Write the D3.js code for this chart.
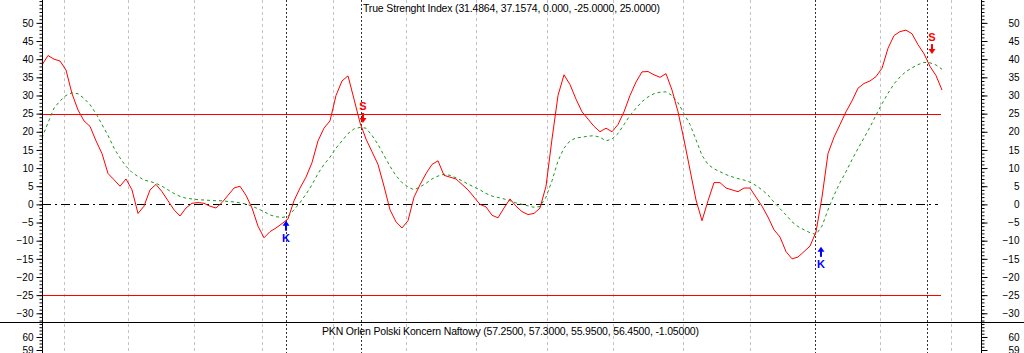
<!DOCTYPE html>
<html>
<head>
<meta charset="utf-8">
<script src="https://cdn.jsdelivr.net/npm/d3@7"></script>
<style>
  body { margin: 0; background: #fff; }
  svg { display: block; }
  text { font-family: "Liberation Sans", Arial, sans-serif; }
</style>
</head>
<body>
<div id="chart"></div>
<script>
// TSI values, one per bar
const tsi = [
  38.4, 41, 40, 39.5, 37, 30.5, 26, 23, 21.5, 17.5,
  14, 8.5, 6.8, 5, 7, 4, -2.5, -0.5, 4, 5.5,
  3.5, 1, -1.5, -3.2, -1, 0.3, 0.5, 0.3, -0.5, -1,
  0.5, 2.5, 4.5, 5, 2.5, -1, -6, -9.2, -7.5, -6.5,
  -5.3, -4, 1, 4.5, 7.5, 11.5, 17.5, 21, 23, 30,
  34, 35.4, 29, 22.5, 18, 14.5, 11, 5, -1.5, -4.8,
  -6.5, -4.5, 2, 5.4, 8.5, 11, 12, 8, 7.5, 7,
  5.5, 4, 2, 0, -0.7, -3, -3.7, -1, 1.5, -0.5,
  -2, -2.8, -2.5, -1, 5, 18, 30, 35.7, 33, 29,
  25.5, 23.5, 21.5, 20, 21, 20, 22, 25.5, 30, 33.7,
  36.5, 36.6, 35.7, 35, 36, 31.5, 25.5, 17.8, 9.5, 1.2,
  -4.5, 1, 6, 6, 4.5, 4, 3.5, 4.5, 4.5, 2,
  -0.5, -3.5, -7, -9, -13, -15, -14.5, -13, -11.5, -7.6,
  2, 14, 18.5, 22, 25.5, 28.5, 32, 33.3, 34, 35.2,
  37.5, 43, 46.5, 47.6, 48, 47, 44, 41.5, 38, 35.5,
  31.5
];
// signal line
const signal = [
  18.3, 22.5, 26.5, 28.5, 30, 30.7, 30.5, 29.2, 27.5, 25,
  22, 19, 15.5, 12.8, 10.5, 8.8, 7.7, 6.7, 6.3, 5.8,
  5, 4, 3, 2.2, 1.7, 1.5, 1.3, 1.2, 1.1, 1,
  1, 0.8, 0.7, 0.4, 0.1, -0.5, -1.2, -2, -2.9, -3.4,
  -3.6, -3.3, -1.5, 0.5, 2.8, 5.4, 8.5, 11, 13, 15.5,
  17.5, 19.5, 20.8, 21.2, 21, 19, 16.5, 13.5, 10.5, 7.9,
  6, 4.8, 4, 4.8, 5.8, 7, 7.8, 8.3, 8, 7.3,
  6.5, 5.6, 4.8, 4, 3, 2.3, 1.9, 1.5, 1, 0.4,
  0, -0.4, -0.8, -0.6, 2, 6.5, 12, 15.5, 17.5, 18.3,
  18.5, 18.8, 18.9, 18.5, 17.5, 18, 19.5, 22, 24.5, 26.5,
  28.3, 29.6, 30.5, 30.9, 31, 30, 28, 25, 22, 17.8,
  13.5, 11, 9.8, 9, 8.2, 7.6, 7.1, 6.7, 6.1, 5.2,
  4, 2.6, 0.6, -1.2, -2.9, -4.8, -6.1, -7, -7.8, -8.3,
  -6, -1.5, 2.5, 6, 9, 12.3, 15.4, 18.3, 21.3, 24.6,
  27.7, 30.6, 33.2, 35.1, 36.6, 37.6, 38.5, 39.1, 39, 38.4,
  37.2
];
const levels = [25, -25];
const gridIdx = [3.67, 14.33, 25.33, 36.67, 48.5, 60.67, 72.33, 84.17, 95.17, 106.83, 118, 139.67, 151.5];
const signalIdx = [40.67, 53.17, 128.83, 147.5];
const markers = [
  { i: 40.67, v: -4.5, type: "K" },
  { i: 53.5, v: 22.4, type: "S" },
  { i: 129.83, v: -11.7, type: "K" },
  { i: 148.33, v: 41.4, type: "S" }
];
const tsiTicks = d3.range(-30, 55, 5);
const tsiMinor = d3.range(-32, 57, 1);
const priceTicks = [60, 59];
const priceMinor = d3.range(58.75, 61.2, 0.25);
const titleTop = "True Strenght Index (31.4864, 37.1574, 0.000, -25.0000, 25.0000)";
const titleBottom = "PKN Orlen Polski Koncern Naftowy (57.2500, 57.3000, 55.9500, 56.4500, -1.05000)";

const W = 1024, H = 353;
const left = 42, right = 981, sep = 322;

const svg = d3.select("#chart").append("svg")
  .attr("width", W)
  .attr("height", H);

const x = d3.scaleLinear().domain([0, tsi.length - 1]).range([42, 942]);
const y = d3.scaleLinear().domain([-32.4, 56.3]).range([sep, 0]);
const yP = d3.scaleLinear().domain([58.77, 61.15]).range([H, sep]);

// vertical grid
svg.selectAll("line.grid")
  .data(gridIdx)
  .enter().append("line")
  .attr("class", "grid")
  .attr("x1", d => Math.round(x(d)) + 0.5).attr("x2", d => Math.round(x(d)) + 0.5)
  .attr("y1", 0).attr("y2", H)
  .attr("stroke", "#c4c4c4")
  .attr("stroke-dasharray", "3,3");

svg.selectAll("line.sig")
  .data(signalIdx)
  .enter().append("line")
  .attr("class", "sig")
  .attr("x1", d => Math.round(x(d)) + 0.5).attr("x2", d => Math.round(x(d)) + 0.5)
  .attr("y1", 0).attr("y2", H)
  .attr("stroke", "#333")
  .attr("stroke-dasharray", "2,2");

// level lines
svg.selectAll("line.level")
  .data(levels)
  .enter().append("line")
  .attr("x1", left).attr("x2", 941)
  .attr("y1", d => Math.round(y(d)) + 0.5).attr("y2", d => Math.round(y(d)) + 0.5)
  .attr("stroke", "#ff0000");

svg.append("line")
  .attr("x1", left).attr("x2", 938)
  .attr("y1", Math.round(y(0)) + 0.5).attr("y2", Math.round(y(0)) + 0.5)
  .attr("stroke", "#000")
  .attr("stroke-dasharray", "9,4,2,4");

// series
svg.append("path")
  .datum(signal)
  .attr("fill", "none")
  .attr("stroke", "#1c961c")
  .attr("stroke-dasharray", "3,3")
  .attr("d", d3.line().x((d, i) => x(i)).y(d => y(d)));

svg.append("path")
  .datum(tsi)
  .attr("fill", "none")
  .attr("stroke", "#ff0000")
  .attr("d", d3.line().x((d, i) => x(i)).y(d => y(d)));

// K / S markers
markers.forEach(m => {
  const mx = x(m.i), t = y(m.v);
  const col = m.type === "K" ? "#0000ff" : "#ff0000";
  const g = svg.append("g");
  if (m.type === "K") {
    g.append("path").attr("d", `M${mx},${t} L${mx - 3.5},${t + 5} L${mx + 3.5},${t + 5} Z`).attr("fill", col);
    g.append("rect").attr("x", mx - 1).attr("y", t + 4).attr("width", 2).attr("height", 6).attr("fill", col);
    g.append("text").attr("x", mx).attr("y", t + 21).attr("text-anchor", "middle")
      .attr("font-size", "11px").attr("font-weight", "bold").attr("fill", col).text(m.type);
  } else {
    g.append("path").attr("d", `M${mx},${t} L${mx - 3.5},${t - 5} L${mx + 3.5},${t - 5} Z`).attr("fill", col);
    g.append("rect").attr("x", mx - 1).attr("y", t - 10).attr("width", 2).attr("height", 6).attr("fill", col);
    g.append("text").attr("x", mx).attr("y", t - 13).attr("text-anchor", "middle")
      .attr("font-size", "11px").attr("font-weight", "bold").attr("fill", col).text(m.type);
  }
});

// separator and axes
svg.append("line").attr("x1", 0).attr("x2", W).attr("y1", sep + 0.5).attr("y2", sep + 0.5).attr("stroke", "#000");
[left, right].forEach(px => {
  svg.append("line").attr("x1", px + 0.5).attr("x2", px + 0.5).attr("y1", 0).attr("y2", H).attr("stroke", "#000");
});

function drawAxis(scale, major, minor, side) {
  const gen = side === "left" ? d3.axisLeft : d3.axisRight;
  const xpos = side === "left" ? left + 0.5 : right + 0.5;
  const gm = svg.append("g").attr("transform", `translate(${xpos},0)`)
    .call(gen(scale).tickValues(minor).tickSize(3).tickFormat(""));
  gm.select(".domain").remove();
  const g = svg.append("g").attr("transform", `translate(${xpos},0)`)
    .call(gen(scale).tickValues(major).tickSize(6).tickPadding(3).tickFormat(d3.format("d")));
  g.select(".domain").remove();
  g.selectAll("text").attr("font-size", "10px").attr("fill", "#000")
    .attr("font-family", '"Liberation Sans", Arial, sans-serif');
  if (side === "right") g.selectAll("text").attr("text-anchor", "end").attr("x", 38);
  else g.selectAll("text").attr("x", -9);
}
drawAxis(y, tsiTicks, tsiMinor, "left");
drawAxis(y, tsiTicks, tsiMinor, "right");
drawAxis(yP, priceTicks, priceMinor, "left");
drawAxis(yP, priceTicks, priceMinor, "right");

// titles
svg.append("text").attr("x", 363).attr("y", 12)
  .attr("font-size", "10.5px").attr("textLength", 297).attr("lengthAdjust", "spacing")
  .text(titleTop);
svg.append("text").attr("x", 322).attr("y", 335)
  .attr("font-size", "10.5px").attr("textLength", 377).attr("lengthAdjust", "spacing")
  .text(titleBottom);
</script>
</body>
</html>
